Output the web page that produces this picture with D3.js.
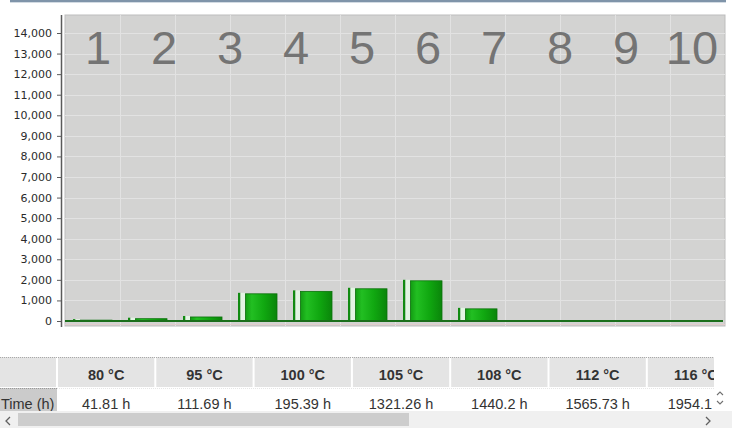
<!DOCTYPE html>
<html><head><meta charset="utf-8">
<script src="https://cdn.jsdelivr.net/npm/d3@7"></script>
<style>
body{margin:0;background:#fff;}
svg{display:block;}
</style>
</head><body>
<svg id="chart" width="732" height="428"></svg>
<script>
// ---------------- data ----------------
const temperatures = ["80 °C","95 °C","100 °C","105 °C","108 °C","112 °C","116 °C","120 °C"];
const hours = [41.81, 111.69, 195.39, 1321.26, 1440.2, 1565.73, 1954.1, 590];
const barSlots = [1,2,3,4,5,6,7,8,9,10,11,12];
const overlayNumbers = ["1","2","3","4","5","6","7","8","9","10"];
const yTicks = [0,1000,2000,3000,4000,5000,6000,7000,8000,9000,10000,11000,12000,13000,14000];
const rowHeader = "Time (h)";

// ---------------- layout ----------------
const svg = d3.select("#chart");
const plot = {left:65, right:725, top:15, bottom:326};
const y = d3.scaleLinear().domain([0,14000]).range([321,33]);
const x = d3.scaleBand().domain(barSlots).range([plot.left, plot.right]).padding(0);
const xn = d3.scaleBand().domain(overlayNumbers).range([plot.left, plot.right]).padding(0);

// top header border
svg.append("rect").attr("x",10).attr("y",0).attr("width",716).attr("height",2).attr("fill","#7f94a9");
svg.append("rect").attr("x",10).attr("y",2).attr("width",716).attr("height",1).attr("fill","#d3dbe3");

// plot background
svg.append("rect").attr("x",plot.left).attr("y",plot.top)
  .attr("width",plot.right-plot.left).attr("height",plot.bottom-plot.top)
  .attr("fill","#d3d3d2").attr("stroke","#bdbdbd").attr("stroke-width",1);

// gridlines
svg.append("g").selectAll("line").data(yTicks.slice(1)).join("line")
  .attr("x1",plot.left).attr("x2",plot.right)
  .attr("y1",d=>Math.round(y(d))+0.5).attr("y2",d=>Math.round(y(d))+0.5)
  .attr("stroke","#e2e2e2").attr("stroke-width",1);
svg.append("g").selectAll("line").data(barSlots.slice(1)).join("line")
  .attr("x1",d=>Math.round(x(d))+0.5).attr("x2",d=>Math.round(x(d))+0.5)
  .attr("y1",plot.top).attr("y2",plot.bottom)
  .attr("stroke","#e2e2e2").attr("stroke-width",1);

// overlay numbers
svg.append("g").selectAll("text").data(overlayNumbers).join("text")
  .attr("x",d=>xn(d)+xn.bandwidth()/2).attr("y",64)
  .attr("text-anchor","middle")
  .attr("font-family","'Liberation Sans', Arial, sans-serif")
  .attr("font-size",47).attr("fill","#747474")
  .text(d=>d);

// gradient
const defs = svg.append("defs");
const g = defs.append("linearGradient").attr("id","barGrad").attr("x1","0").attr("x2","1").attr("y1","0").attr("y2","0");
[[0,"#129c12"],[0.2,"#22bf22"],[0.6,"#10a710"],[1,"#0a850a"]].forEach(s=>
  g.append("stop").attr("offset",s[0]).attr("stop-color",s[1]));

// bars
const barData = barSlots.map((s,i)=>({slot:s, v: i<hours.length ? hours[i] : 0})).filter(d=>d.v>0);
const bars = svg.append("g");
bars.selectAll("rect.side").data(barData).join("rect").attr("class","side")
  .attr("x",d=>x(d.slot)+x.bandwidth()/2-19.5).attr("width",2.5)
  .attr("y",d=>y(d.v)-1).attr("height",d=>y(0)-y(d.v)+1)
  .attr("fill","#118a11");
bars.selectAll("rect.gap").data(barData).join("rect").attr("class","gap")
  .attr("x",d=>x(d.slot)+x.bandwidth()/2-17).attr("width",4.5)
  .attr("y",d=>y(d.v)-1).attr("height",d=>y(0)-y(d.v)+1)
  .attr("fill","#e3f4e3");
bars.selectAll("rect.main").data(barData).join("rect").attr("class","main")
  .attr("x",d=>x(d.slot)+x.bandwidth()/2-12).attr("width",31.5)
  .attr("y",d=>y(d.v)).attr("height",d=>y(0)-y(d.v))
  .attr("fill","url(#barGrad)").attr("stroke","#0b720b").attr("stroke-width",0.8);

// baseline
svg.append("line").attr("x1",plot.left).attr("x2",plot.right-2)
  .attr("y1",y(0)).attr("y2",y(0)).attr("stroke","#1b6f1b").attr("stroke-width",2);
svg.append("line").attr("x1",plot.left).attr("x2",plot.right)
  .attr("y1",y(0)+3.5).attr("y2",y(0)+3.5).attr("stroke","#e2cccc").attr("stroke-width",1);

// y axis
svg.append("line").attr("x1",61.5).attr("x2",61.5).attr("y1",15).attr("y2",327)
  .attr("stroke","#5a5a5a").attr("stroke-width",1.5);
const ax = svg.append("g").attr("transform","translate(61,0)")
  .call(d3.axisLeft(y).tickValues(yTicks).tickSize(4).tickSizeOuter(0).tickPadding(5).tickFormat(d3.format(",")));
ax.select(".domain").remove();
ax.selectAll(".tick line").attr("stroke","#5a5a5a");
ax.selectAll(".tick text").attr("font-family","'DejaVu Sans', Verdana, sans-serif")
  .attr("font-size",11).attr("fill","#2a2a2a");

// ---------------- table ----------------
const firstW = 57, colW = 98.3;
defs.append("clipPath").attr("id","tclip").append("rect").attr("x",0).attr("y",340).attr("width",714).attr("height",71);
const t = svg.append("g").attr("clip-path","url(#tclip)");
// header row
t.append("rect").attr("x",0).attr("y",357).attr("width",firstW-1).attr("height",30).attr("fill","#e4e4e4");
t.selectAll("rect.h").data(temperatures).join("rect").attr("class","h")
  .attr("x",(d,i)=>firstW+i*colW+1).attr("y",357).attr("width",colW-2).attr("height",30).attr("fill","#e4e4e4");
t.append("line").attr("x1",0).attr("x2",714).attr("y1",357.5).attr("y2",357.5)
  .attr("stroke","#a9a9a9").attr("stroke-dasharray","1,1");
t.selectAll("text.h").data(temperatures).join("text").attr("class","h")
  .attr("x",(d,i)=>firstW+i*colW+colW/2).attr("y",380).attr("text-anchor","middle")
  .attr("font-family","'Liberation Sans', Arial, sans-serif").attr("font-weight","bold")
  .attr("font-size",14.5).attr("fill","#333").text(d=>d);
// data row
t.append("rect").attr("x",0).attr("y",388).attr("width",firstW).attr("height",24).attr("fill","#cbcbcb");
t.append("line").attr("x1",0).attr("x2",firstW).attr("y1",388.5).attr("y2",388.5)
  .attr("stroke","#9a9a9a").attr("stroke-dasharray","1,1");
t.append("line").attr("x1",firstW).attr("x2",714).attr("y1",388.5).attr("y2",388.5)
  .attr("stroke","#e6e6e6").attr("stroke-dasharray","1,1");
t.append("text").attr("x",1).attr("y",409)
  .attr("font-family","'Liberation Sans', Arial, sans-serif").attr("font-size",14.5).attr("fill","#333").text(rowHeader);
t.selectAll("text.v").data(hours).join("text").attr("class","v")
  .attr("x",(d,i)=>firstW+i*colW+colW/2).attr("y",409).attr("text-anchor","middle")
  .attr("font-family","'Liberation Sans', Arial, sans-serif").attr("font-size",14.5).attr("fill","#333")
  .text(d=>d+" h");

// horizontal scrollbar
svg.append("rect").attr("x",0).attr("y",411).attr("width",732).attr("height",17).attr("fill","#f0f0f0");
svg.append("rect").attr("x",18).attr("y",413).attr("width",391).attr("height",13).attr("fill","#cdcdcd");
svg.append("path").attr("d","M10,417 L6,421 L10,425").attr("fill","none").attr("stroke","#606060").attr("stroke-width",1.3);
svg.append("path").attr("d","M706,417 L710,421 L706,425").attr("fill","none").attr("stroke","#606060").attr("stroke-width",1.3);
// vertical scroll arrows
svg.append("path").attr("d","M717,395 L720,392 L723,395").attr("fill","none").attr("stroke","#707070").attr("stroke-width",1.1);
svg.append("path").attr("d","M717,401 L720,404 L723,401").attr("fill","none").attr("stroke","#707070").attr("stroke-width",1.1);
</script>
</body></html>
